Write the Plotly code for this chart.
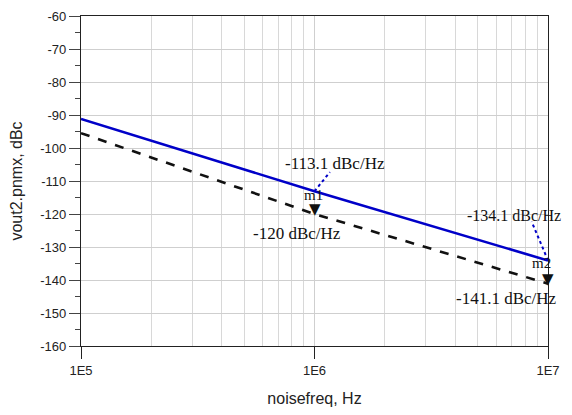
import plotly.graph_objects as go

freq = [1e5, 1e6, 1e7]
vout_blue = [-91.2, -113.1, -134.1]
vout_black = [-95.5, -120.0, -141.1]

y_tickvals = [-60, -70, -80, -90, -100, -110, -120, -130, -140, -150, -160]
y_ticktext = ["-60", "-70", "-80", "-90", "-100", "-110", "-120", "-130", "-140", "-150", "-160"]
x_tickvals = [1e5, 1e6, 1e7]
x_ticktext = ["1E5", "1E6", "1E7"]

marker_labels = ["m1", "m2"]
blue_readouts = ["-113.1 dBc/Hz", "-134.1 dBc/Hz"]
black_readouts = ["-120 dBc/Hz", "-141.1 dBc/Hz"]

fig = go.Figure()
fig.add_trace(go.Scatter(x=freq, y=vout_blue, mode="lines",
                         line=dict(color="#0000c8", width=2.6), showlegend=False))
fig.add_trace(go.Scatter(x=freq, y=vout_black, mode="lines",
                         line=dict(color="#111111", width=2.6, dash="dash"), showlegend=False))

serif = dict(family="Liberation Serif, Times New Roman, serif", size=17, color="#111111")
serif_edge = dict(family="Liberation Serif, Times New Roman, serif", size=16, color="#111111")
serif_m = dict(family="Liberation Serif, Times New Roman, serif", size=15, color="#111111")

# dotted leader lines from blue readout points
fig.add_shape(type="line", xref="x", yref="y", x0=freq[1], y0=vout_blue[1], x1=10**6.066, y1=-107.3,
              line=dict(color="#0000c8", width=2, dash="dot"))
fig.add_shape(type="line", xref="x", yref="y", x0=freq[2], y0=vout_blue[2], x1=10**6.930, y1=-122.3,
              line=dict(color="#0000c8", width=2, dash="dot"))

# marker triangles (tip on the dashed curve)
for fx, fy in [(6.0, vout_black[1]), (7.0, vout_black[2])]:
    fig.add_annotation(x=fx, y=fy, xref="x", yref="y", text="▼", showarrow=False,
                       yanchor="bottom", yshift=-6,
                       font=dict(family="DejaVu Sans", size=15, color="#111111"))

# readout texts
fig.add_annotation(x=6.0, y=vout_blue[1], text=blue_readouts[0], showarrow=False,
                   xref="x", yref="y", xshift=20, yshift=28, font=serif)
fig.add_annotation(x=6.0, y=vout_black[1], text=marker_labels[0], showarrow=False,
                   xref="x", yref="y", xshift=-1, yshift=19, font=serif_m)
fig.add_annotation(x=6.0, y=vout_black[1], text=black_readouts[0], showarrow=False,
                   xref="x", yref="y", xshift=-18, yshift=-19, font=serif)

fig.add_annotation(x=7.0, y=vout_blue[2], text=blue_readouts[1], showarrow=False,
                   xref="x", yref="y", xshift=-34, yshift=45, font=serif_edge)
fig.add_annotation(x=7.0, y=vout_black[2], text=marker_labels[1], showarrow=False,
                   xref="x", yref="y", xshift=-7, yshift=21, font=serif_m)
fig.add_annotation(x=7.0, y=vout_black[2], text=black_readouts[1], showarrow=False,
                   xref="x", yref="y", xshift=-42, yshift=-15, font=serif)

sans = dict(family="Liberation Sans, Arial, sans-serif", size=13, color="#222222")
title_font = dict(family="Liberation Sans, Arial, sans-serif", size=16, color="#222222")

fig.update_xaxes(type="log", range=[5, 7], tickvals=x_tickvals, ticktext=x_ticktext,
                 ticks="outside", ticklen=12, tickcolor="#222222", tickwidth=1,
                 showgrid=True, gridcolor="#cfcfcf", gridwidth=1,
                 minor=dict(dtick="D1", showgrid=True, gridcolor="#d8d8d8", gridwidth=1, ticks=""),
                 showline=True, linecolor="#222222", linewidth=1.2, mirror=True,
                 zeroline=False, tickfont=sans, automargin=False,
                 title=dict(text="noisefreq, Hz", font=title_font, standoff=20))
fig.update_yaxes(range=[-160, -60], tickvals=y_tickvals, ticktext=y_ticktext,
                 ticks="outside", ticklen=11, tickcolor="#444444", tickwidth=1,
                 showgrid=True, gridcolor="#cfcfcf", gridwidth=1,
                 minor=dict(dtick=5, ticks="outside", ticklen=5, tickcolor="#444444", showgrid=False),
                 showline=True, linecolor="#222222", linewidth=1.2, mirror=True,
                 zeroline=False, tickfont=sans, automargin=False,
                 title=dict(text="vout2.pnmx, dBc", font=title_font, standoff=14))

# page body adds an 8px margin, so the figure is offset by 8px inside the window
fig.update_layout(width=564, height=399, margin=dict(l=73, r=24, t=8, b=61),
                  paper_bgcolor="white", plot_bgcolor="white")

fig.write_html("out.html")
